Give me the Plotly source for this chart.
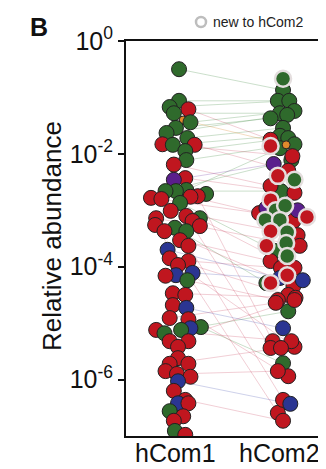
import numpy as np
import plotly.graph_objects as go

# ---------------- data (log10 relative abundance, x jitter in category units) ----------------
# taxa present in both communities
shared_group = (['G'] * 18 + ['R'] * 28 + ['B'] * 4 + ['P'] + ['O'])
shared_h1_log = [-0.50, -1.06, -1.17, -1.28, -1.44, -1.54, -1.63, -1.72, -1.84, -1.95, -2.11, -2.64,
                 -2.66, -2.66, -2.87, -3.31, -5.12, -5.07,
                 -1.21, -1.83, -1.84, -2.19, -2.43, -2.78, -2.80, -2.76, -2.75, -3.01, -3.10, -3.14,
                 -3.26, -3.37, -3.53, -3.63, -3.85, -3.90, -3.97, -4.16, -4.47, -4.68, -4.91, -5.12,
                 -5.32, -5.72, -5.90, -6.36,
                 -3.70, -4.11, -4.73, -6.03,
                 -2.46,
                 -1.40]
shared_h1_jit = [0.03, 0.03, -0.06, -0.02, 0.14, 0.00, -0.09, 0.11, -0.03, 0.09, 0.10, 0.10,
                 -0.10, 0.00, 0.04, -0.01, 0.05, 0.24,
                 0.12, -0.13, 0.18, -0.02, 0.09, -0.24, -0.14, 0.14, 0.21, -0.05, 0.10, -0.19,
                 -0.20, -0.11, 0.04, 0.12, -0.06, 0.12, 0.02, -0.10, -0.03, -0.03, -0.06, -0.19,
                 -0.06, -0.06, 0.01, 0.09,
                 -0.08, 0.16, 0.10, 0.02,
                 -0.02,
                 0.07]
shared_h2_log = [-0.87, -1.06, -1.06, -1.28, -1.24, -1.37, -1.31, -1.54, -1.68, -1.72, -1.83, -1.90,
                 -2.11, -2.66, -3.72, -4.29, -4.79, -5.71,
                 -1.75, -2.04, -2.30, -2.57, -2.69, -3.05, -4.02, -3.19, -5.32, -3.44, -5.44, -3.63,
                 -6.59, -4.34, -3.90, -6.36, -4.50, -4.02, -5.42, -4.59, -4.55, -5.94, -4.64, -5.32,
                 -4.59, -5.44, -5.85, -6.73,
                 -4.20, -4.24, -5.09, -6.43,
                 -2.18,
                 -1.84]
shared_h2_jit = [0.03, -0.02, 0.09, 0.00, 0.14, -0.09, 0.07, 0.03, 0.00, 0.08, 0.14, 0.00,
                 0.11, 0.01, -0.05, -0.13, 0.08, 0.03,
                 -0.09, 0.12, 0.08, -0.09, 0.14, -0.20, 0.14, 0.13, -0.07, 0.17, -0.09, 0.19,
                 -0.02, 0.13, -0.09, 0.03, 0.08, 0.01, 0.14, -0.02, 0.15, 0.08, -0.04, 0.11,
                 0.14, 0.01, -0.02, 0.03,
                 0.00, 0.22, 0.03, 0.10,
                 -0.06,
                 0.06]

# taxa only detected in hCom1
lost_group = ['G'] * 7 + ['R'] * 15 + ['B'] * 3
lost_log = [-2.71, -3.14, -3.37, -4.24, -5.18, -6.56, -6.91,
            -3.28, -3.19, -4.50, -4.93, -5.32, -5.42, -5.62, -5.72, -5.85, -5.95, -6.20, -6.42, -6.65,
            -6.73, -6.98,
            -4.15, -6.42, -5.09]
lost_jit = [0.29, 0.23, 0.10, 0.11, -0.11, -0.06, -0.01,
            0.23, 0.16, 0.09, 0.12, 0.12, 0.02, 0.02, 0.12, -0.10, 0.14, -0.02, 0.12, 0.07,
            -0.02, 0.09,
            0.00, 0.02, 0.14]

# taxa only in hCom2 (not flagged as new)
h2only_group = ['P', 'P']
h2only_log = [-2.96, -3.00]
h2only_jit = [-0.13, 0.17]

# taxa new to hCom2
new_group = ['G', 'R', 'R', 'G', 'R', 'G', 'G', 'R', 'G', 'G', 'R', 'G', 'G', 'R', 'G', 'R', 'R']
new_log = [-0.67, -1.86, -2.39, -2.46, -2.82, -3.00, -2.92, -3.12, -3.17, -3.17, -3.37, -3.39,
           -3.58, -3.63, -3.81, -4.15, -4.29]
new_jit = [0.03, -0.09, -0.02, 0.14, -0.09, -0.04, 0.05, 0.26, -0.14, 0.00, -0.09, 0.07,
           0.06, -0.13, 0.07, 0.07, -0.09]

communities = ['hCom1', 'hCom2']
ytick_vals = [1, 1e-2, 1e-4, 1e-6]
ytick_text = ['10<sup>0</sup>', '10<sup>-2</sup>', '10<sup>-4</sup>', '10<sup>-6</sup>']

# ---------------- styles ----------------
COL = {'G': '#2f6a2c', 'R': '#c0161f', 'B': '#2b3592', 'P': '#5a1f8c', 'O': '#e08a2c'}
LCOL = {'G': 'rgba(70,140,70,0.28)', 'R': 'rgba(195,50,80,0.24)', 'B': 'rgba(60,70,170,0.25)',
        'P': 'rgba(100,40,150,0.25)', 'O': 'rgba(220,140,50,0.3)'}
FONT = 'Liberation Sans, Arial, sans-serif'
MS = 15

fig = go.Figure()

# connecting lines
for g in LCOL:
    xs, ys = [], []
    for grp, l1, j1, l2, j2 in zip(shared_group, shared_h1_log, shared_h1_jit, shared_h2_log, shared_h2_jit):
        if grp == g:
            xs += [1 + j1, 2 + j2, None]
            ys += [10 ** l1, 10 ** l2, None]
    if xs:
        fig.add_trace(go.Scatter(x=xs, y=ys, mode='lines', line=dict(color=LCOL[g], width=1),
                                 hoverinfo='skip', showlegend=False))

def sizes(groups):
    return [8 if g == 'O' else MS for g in groups]

# hCom1 points
h1_groups = shared_group + lost_group
h1_log = shared_h1_log + lost_log
h1_jit = shared_h1_jit + lost_jit
order = np.argsort(np.array(h1_log))[::-1]
fig.add_trace(go.Scatter(
    x=[1 + h1_jit[i] for i in order], y=[10 ** h1_log[i] for i in order], mode='markers',
    marker=dict(color=[COL[h1_groups[i]] for i in order], size=[sizes(h1_groups)[i] for i in order],
                opacity=1, line=dict(color='#222222', width=1)),
    showlegend=False))

# hCom2 points (present before)
h2_groups = shared_group + h2only_group
h2_log = shared_h2_log + h2only_log
h2_jit = shared_h2_jit + h2only_jit
fig.add_trace(go.Scatter(
    x=[2 + j for j in h2_jit], y=[10 ** l for l in h2_log], mode='markers',
    marker=dict(color=[COL[g] for g in h2_groups], size=sizes(h2_groups), opacity=1,
                line=dict(color='#222222', width=1)),
    showlegend=False))

# hCom2 new points
fig.add_trace(go.Scatter(
    x=[2 + j for j in new_jit], y=[10 ** l for l in new_log], mode='markers',
    marker=dict(color=[COL[g] for g in new_group], size=MS + 1, opacity=1,
                line=dict(color='rgba(228,222,222,1)', width=2.5)),
    showlegend=False))

W, H = 326, 469
L, R, T, B = 118, 0, 33, 41
pw, ph = W - L - R, H - T - B

def px(x):
    return (x - L) / pw

def py(y):
    return (H - B - y) / ph

annotations = [
    dict(text='Relative abundance', xref='paper', yref='paper', x=px(44), y=py(228),
         xanchor='center', yanchor='middle', textangle=-90, showarrow=False,
         font=dict(size=26, family=FONT, color='#111111')),
    dict(text='<b>B</b>', xref='paper', yref='paper', x=px(20), y=py(19),
         xanchor='left', yanchor='middle', showarrow=False,
         font=dict(size=25, family=FONT, color='#111111')),
    dict(text='new to hCom2', xref='paper', yref='paper', x=px(203), y=py(14),
         xanchor='left', yanchor='middle', showarrow=False,
         font=dict(size=14, family=FONT, color='#222222')),
]
for i, name in enumerate(communities):
    annotations.append(dict(text=name, xref='x', yref='paper', x=i + 1, y=py(445),
                            xanchor='center', yanchor='middle', showarrow=False,
                            font=dict(size=25, family=FONT, color='#111111')))

fig.update_layout(
    width=W, height=H, margin=dict(l=L, r=R, t=T, b=B),
    paper_bgcolor='white', plot_bgcolor='white',
    font=dict(family=FONT, color='#111111'),
    xaxis=dict(range=[0.52, 2.52], showticklabels=False, showline=True, mirror=True,
               linecolor='#111111', linewidth=2, ticks='', showgrid=False, zeroline=False),
    yaxis=dict(type='log', range=[-7, 0], tickvals=ytick_vals, ticktext=ytick_text, showline=True,
               linecolor='#111111', linewidth=2, ticks='outside', ticklen=6, tickwidth=1.5,
               tickcolor='#111111', showgrid=False, zeroline=False,
               tickfont=dict(size=25, family=FONT, color='#111111')),
    shapes=[dict(type='circle', xref='paper', yref='paper',
                 x0=px(188), x1=px(198), y0=py(19), y1=py(9),
                 line=dict(color='#bdbdbd', width=2.5), fillcolor='white')],
    annotations=annotations,
)

fig.write_html('out.html')
